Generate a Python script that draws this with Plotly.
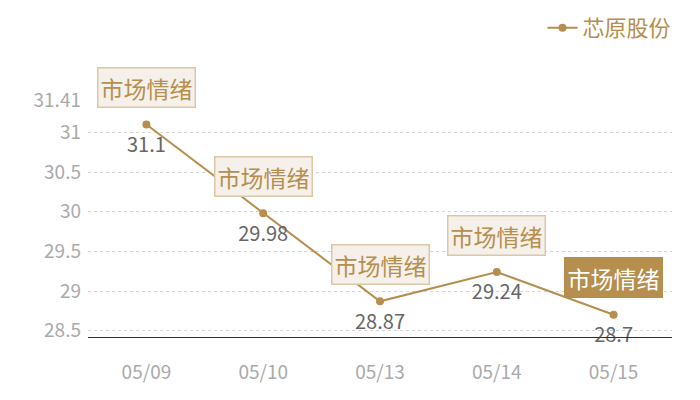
import plotly.graph_objects as go

dates = ["05/09", "05/10", "05/13", "05/14", "05/15"]
prices = [31.1, 29.98, 28.87, 29.24, 28.7]
tags = ["市场情绪", "市场情绪", "市场情绪", "市场情绪", "市场情绪"]
y_ticks = [28.5, 29, 29.5, 30, 30.5, 31, 31.41]

gold = "#b68e4e"
font_cn = "Noto Sans CJK SC"

fig = go.Figure()
fig.add_trace(go.Scatter(
    x=dates, y=prices, mode="lines+markers", name="芯原股份",
    line=dict(color=gold, width=2),
    marker=dict(color=gold, size=8),
))
# value labels: invisible bigger markers just to push the text a bit lower
fig.add_trace(go.Scatter(
    x=dates, y=prices, mode="markers+text", showlegend=False,
    marker=dict(size=18, color="rgba(0,0,0,0)"),
    text=[str(v) for v in prices],
    textposition="bottom center",
    textfont=dict(family=font_cn, size=20, color="#666666"),
    cliponaxis=False, hoverinfo="skip",
))

# tag boxes above each point, the last one highlighted
for i, (d, v, t) in enumerate(zip(dates, prices, tags)):
    last = i == len(dates) - 1
    fig.add_annotation(
        x=d, y=v, text=t, showarrow=False, yshift=37,
        font=dict(family=font_cn, size=23, color="white" if last else gold),
        bgcolor=gold if last else "#f5f0e9",
        bordercolor=gold if last else "#dcc7a8",
        borderwidth=1.5, borderpad=2,
    )

fig.update_layout(
    width=700, height=400,
    margin=dict(l=80, r=36, t=92, b=71, autoexpand=False),
    plot_bgcolor="white", paper_bgcolor="white",
    showlegend=True,
    legend=dict(x=0.955, y=0.95, xref="container", yref="container",
                xanchor="right", yanchor="middle",
                font=dict(family=font_cn, size=22, color=gold),
                bgcolor="rgba(0,0,0,0)"),
    xaxis=dict(
        type="category", range=[-0.5, 4.5], automargin=False,
        showgrid=False, showline=True, linecolor="#333333", linewidth=1,
        ticks="", tickfont=dict(family=font_cn, size=19, color="#aaaaaa"),
        ticklabelstandoff=18,
    ),
    yaxis=dict(
        range=[28.42, 31.41], tickvals=y_ticks, automargin=False,
        ticktext=[str(v) for v in y_ticks],
        showgrid=True, gridcolor="#d5d5d5", griddash="dot", gridwidth=1,
        zeroline=False, showline=False, ticks="",
        tickfont=dict(family=font_cn, size=19, color="#aaaaaa"),
        ticklabelstandoff=6,
    ),
)

fig.write_html("out.html")
